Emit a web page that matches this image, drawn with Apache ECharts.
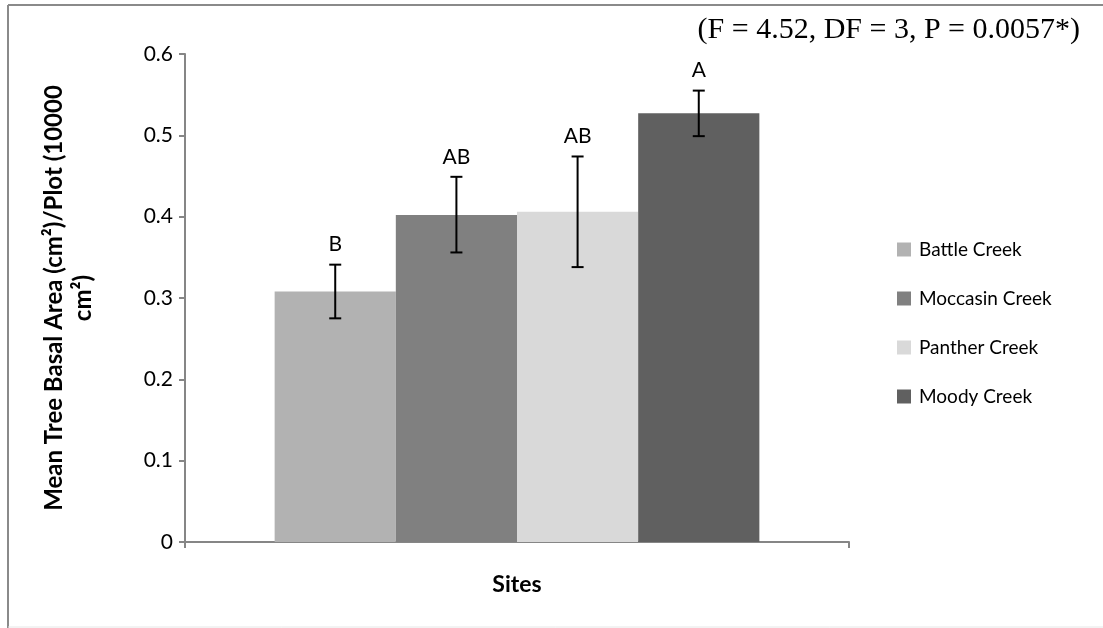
<!DOCTYPE html>
<html>
<head>
<meta charset="utf-8">
<script src="https://cdn.jsdelivr.net/npm/echarts@6/dist/echarts.min.js"></script>
<style>html,body{margin:0;padding:0;background:#fff}#c{width:1103px;height:628px}</style>
</head>
<body>
<div id="c"></div>
<script>
var sites = ['Battle Creek', 'Moccasin Creek', 'Panther Creek', 'Moody Creek'];
var means = [0.308, 0.402, 0.406, 0.527];
var errLow = [0.275, 0.356, 0.338, 0.499];
var errHigh = [0.341, 0.449, 0.474, 0.555];
var letters = ['B', 'AB', 'AB', 'A'];
var colors = ['#b2b2b2', '#808080', '#d9d9d9', '#606060'];
var yTicks = [0, 0.1, 0.2, 0.3, 0.4, 0.5, 0.6];
var statText = '(F = 4.52, DF = 3, P = 0.0057*)';

var CAT_GAP = 0.27;
var chart = echarts.init(document.getElementById('c'));
var series = sites.map(function (s, i) {
  return {
    name: s, type: 'bar', data: [means[i]],
    itemStyle: { color: colors[i] },
    barGap: '0%', barCategoryGap: (CAT_GAP * 100) + '%',
    emphasis: { disabled: true }
  };
});
series.push({
  type: 'custom',
  data: sites.map(function (s, i) { return [0, errLow[i], errHigh[i], i]; }),
  renderItem: function (params, api) {
    var i = api.value(3);
    var catW = api.size([1, 0])[0];
    var barW = catW * (1 - CAT_GAP) / sites.length;
    var base = api.coord([0, 0]);
    var cx = base[0] + (i - (sites.length - 1) / 2) * barW;
    var lo = api.coord([0, api.value(1)])[1];
    var hi = api.coord([0, api.value(2)])[1];
    var cap = 6;
    var st = { stroke: '#000', lineWidth: 2 };
    return {
      type: 'group',
      children: [
        { type: 'line', shape: { x1: cx, y1: lo, x2: cx, y2: hi }, style: st },
        { type: 'line', shape: { x1: cx - cap, y1: lo, x2: cx + cap, y2: lo }, style: st },
        { type: 'line', shape: { x1: cx - cap, y1: hi, x2: cx + cap, y2: hi }, style: st },
        { type: 'text', x: cx, y: hi - 20, style: { text: letters[i], textAlign: 'center', textVerticalAlign: 'middle', fontFamily: 'Lato', fontSize: 21, fill: '#000' } }
      ]
    };
  },
  z: 10
});

chart.setOption({
  animation: false,
  textStyle: { fontFamily: 'Lato' },
  grid: { left: 185, right: 254, top: 54, bottom: 86, containLabel: false },
  legend: {
    orient: 'vertical', left: 892, top: 235,
    itemWidth: 14, itemHeight: 14, itemGap: 30, icon: 'rect',
    textStyle: { fontSize: 19, color: '#000', fontFamily: 'Lato', padding: [0, 0, 0, 3] },
    data: sites
  },
  xAxis: {
    type: 'category', data: [''],
    name: 'Sites', nameLocation: 'middle', nameGap: 31,
    nameTextStyle: { fontSize: 23, fontWeight: 'bold', color: '#000', fontFamily: 'Lato' },
    axisLine: { lineStyle: { color: '#868686', width: 2 } },
    axisTick: { show: true, length: 6, lineStyle: { color: '#868686', width: 2 } },
    axisLabel: { show: false }
  },
  yAxis: {
    type: 'value', min: 0, max: 0.6, interval: 0.1,
    name: 'Mean Tree Basal Area (cm\u00b2)/Plot (10000\ncm\u00b2)',
    nameLocation: 'middle', nameGap: 87, nameRotate: 90,
    nameTextStyle: { fontSize: 24, fontWeight: 'bold', color: '#000', fontFamily: 'Lato', lineHeight: 29, align: 'center' },
    axisLine: { show: true, lineStyle: { color: '#868686', width: 2 } },
    axisTick: { show: true, length: 6, lineStyle: { color: '#868686', width: 2 } },
    splitLine: { show: false },
    axisLabel: { fontSize: 21, color: '#000', margin: 12, fontFamily: 'Lato',
      formatter: function (v) { return yTicks.indexOf(Math.round(v * 10) / 10) >= 0 ? String(Math.round(v * 10) / 10) : ''; } }
  },
  graphic: [
    { type: 'line', shape: { x1: 8, y1: 5, x2: 1103, y2: 5 }, style: { stroke: '#8a8a8a', lineWidth: 2 } },
    { type: 'line', shape: { x1: 8, y1: 5, x2: 8, y2: 628 }, style: { stroke: '#8a8a8a', lineWidth: 2 } },
    { type: 'line', shape: { x1: 8, y1: 627, x2: 1103, y2: 627 }, style: { stroke: '#e6e6e6', lineWidth: 1 } },
    { type: 'text', x: 1080, y: 30, style: { text: statText, textAlign: 'right', textVerticalAlign: 'middle', fontFamily: 'Liberation Serif', fontSize: 30, fill: '#000' } }
  ],
  series: series
});
</script>
</body>
</html>
